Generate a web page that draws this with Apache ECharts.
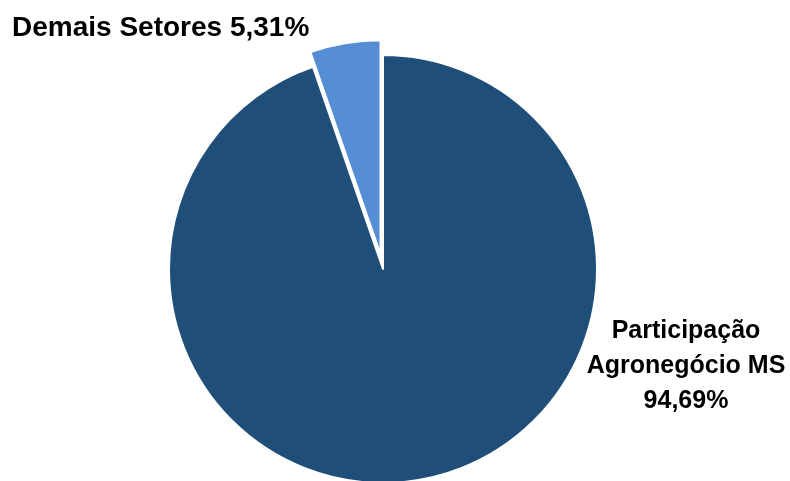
<!DOCTYPE html>
<html>
<head>
<meta charset="utf-8">
<script src="https://cdn.jsdelivr.net/npm/echarts@6/dist/echarts.min.js"></script>
<style>html,body{margin:0;padding:0;background:#fff}#c{width:790px;height:481px}</style>
</head>
<body>
<div id="c"></div>
<script>
const categories = ['Participação\nAgronegócio MS', 'Demais Setores'];
const values = [94.69, 5.31];
const colors = ['#1F4E79', '#558ED5'];

const fmt = v => v.toFixed(2).replace('.', ',') + '%';
const cx = 383, cy = 269, R = 214, off = 15;
// explode the small slice along its bisector
const total = values[0] + values[1];
const bis = (90 + 180 * values[1] / total) * Math.PI / 180;
const ecx = cx + off * Math.cos(bis), ecy = cy - off * Math.sin(bis);

const baseLabel = {
  show: true, position: 'outside',
  fontFamily: 'Liberation Sans', fontWeight: 'bold', color: '#000',
  lineHeight: 35, align: 'center'
};
const chart = echarts.init(document.getElementById('c'));
chart.setOption({
  animation: false,
  series: [{
    type: 'pie', silent: true,
    center: [cx, cy], radius: R, startAngle: 90, clockwise: true,
    data: [
      { name: categories[0], value: values[0], itemStyle: { color: colors[0], borderColor: '#fff', borderWidth: 2 },
        label: { formatter: categories[0] + '\n' + fmt(values[0]), fontSize: 25 } },
      { name: categories[1], value: values[1], itemStyle: { color: 'rgba(0,0,0,0)', borderWidth: 0 }, label: { show: false } }
    ],
    label: baseLabel,
    labelLine: { show: false },
    labelLayout: () => ({ x: 686, y: 366, align: 'center', verticalAlign: 'middle' })
  }, {
    type: 'pie', silent: true,
    center: [ecx, ecy], radius: R, startAngle: 90, clockwise: true,
    data: [
      { name: categories[0], value: values[0], itemStyle: { color: 'rgba(0,0,0,0)', borderWidth: 0 }, label: { show: false } },
      { name: categories[1], value: values[1], itemStyle: { color: colors[1], borderColor: '#fff', borderWidth: 2 },
        label: { formatter: categories[1] + ' ' + fmt(values[1]), fontSize: 28 } }
    ],
    label: baseLabel,
    labelLine: { show: false },
    labelLayout: () => ({ x: 12, y: 28, align: 'left', verticalAlign: 'middle' })
  }]
});
</script>
</body>
</html>
